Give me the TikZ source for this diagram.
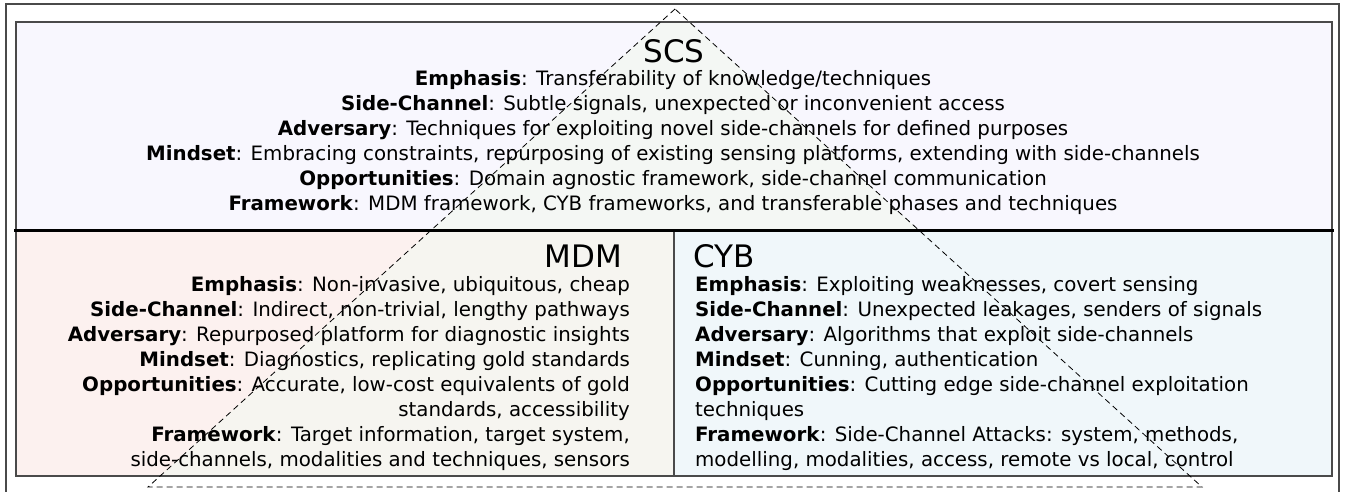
\documentclass[tikz,border=0pt]{standalone}
\usepackage{fontspec}
\setmainfont{DejaVu Sans}
\definecolor{scsfill}{HTML}{F8F7FE}
\definecolor{scstri}{HTML}{F4F7F4}
\definecolor{mdmfill}{HTML}{FCF1EF}
\definecolor{mdmtri}{HTML}{F6F5F0}
\definecolor{cybfill}{HTML}{F0F7FA}
\definecolor{edge}{HTML}{4A4A4A}
\tikzset{
  bodytxt/.style={inner sep=0pt, font=\fontsize{19.8}{25}\selectfont},
  titletxt/.style={inner sep=0pt, font=\fontsize{31}{36}\selectfont},
  boxedge/.style={draw=edge, line width=1.3pt},
  tri/.style={draw=black, line width=0.8pt, dash pattern=on 6pt off 4pt}
}
\begin{document}
\begin{tikzpicture}[x=1pt,y=-1pt]
\useasboundingbox (0,0) rectangle (1346,491);
% coordinates
\coordinate (apex) at (675,9);
\coordinate (bl) at (148,487);
\coordinate (br) at (1202,487);
% fills
\fill[scsfill] (16,22) rectangle (1332,230);
\fill[mdmfill] (16,230) rectangle (674,476);
\fill[cybfill] (674,230) rectangle (1332,476);
\begin{scope}
  \clip (apex) -- (bl) -- (br) -- cycle;
  \fill[scstri] (16,22) rectangle (1332,230);
  \fill[mdmtri] (16,230) rectangle (674,476);
\end{scope}
% outer frame
\draw[edge, line width=1.5pt] (6,495) -- (6,4) -- (1339,4) -- (1339,495);
% boxes
\draw[boxedge] (16,230) -- (16,22) -- (1332,22) -- (1332,230);
\draw[boxedge] (16,230) rectangle (674,476);
\draw[boxedge] (674,230) rectangle (1332,476);
\draw[black, line width=3pt] (14,230) -- (1334,230);
% triangle
\draw[tri] (apex) -- (bl) -- (br) -- cycle;
% titles
\node[titletxt, anchor=base] (scstitle) at (674,62) {SCS};
\node[titletxt, anchor=base east] (mdmtitle) at (622,267) {MDM};
\node[titletxt, anchor=base west] (cybtitle) at (693,267) {CYB};
% SCS lines
\foreach \t [count=\i] in {
  {\textbf{Emphasis}: Transferability of knowledge/techniques},
  {\textbf{Side-Channel}: Subtle signals, unexpected or inconvenient access},
  {\textbf{Adversary}: Techniques for exploiting novel side-channels for defined purposes},
  {\textbf{Mindset}: Embracing constraints, repurposing of existing sensing platforms, extending with side-channels},
  {\textbf{Opportunities}: Domain agnostic framework, side-channel communication},
  {\textbf{Framework}: MDM framework, CYB frameworks, and transferable phases and techniques}}
  \node[bodytxt, anchor=base] (scs\i) at (673,{85+25*(\i-1)}) {\t};
% MDM lines
\foreach \t [count=\i] in {
  {\textbf{Emphasis}: Non-invasive, ubiquitous, cheap},
  {\textbf{Side-Channel}: Indirect, non-trivial, lengthy pathways},
  {\textbf{Adversary}: Repurposed platform for diagnostic insights},
  {\textbf{Mindset}: Diagnostics, replicating gold standards},
  {\textbf{Opportunities}: Accurate, low-cost equivalents of gold},
  {standards, accessibility},
  {\textbf{Framework}: Target information, target system,},
  {side-channels, modalities and techniques, sensors}}
  \node[bodytxt, anchor=base east] (mdm\i) at (630,{291+25.1*(\i-1)}) {\t};
% CYB lines
\foreach \t [count=\i] in {
  {\textbf{Emphasis}: Exploiting weaknesses, covert sensing},
  {\textbf{Side-Channel}: Unexpected leakages, senders of signals},
  {\textbf{Adversary}: Algorithms that exploit side-channels},
  {\textbf{Mindset}: Cunning, authentication},
  {\textbf{Opportunities}: Cutting edge side-channel exploitation},
  {techniques},
  {\textbf{Framework}: Side-Channel Attacks: system, methods,},
  {modelling, modalities, access, remote vs local, control}}
  \node[bodytxt, anchor=base west] (cyb\i) at (695,{291+25.1*(\i-1)}) {\t};
\end{tikzpicture}
\end{document}
